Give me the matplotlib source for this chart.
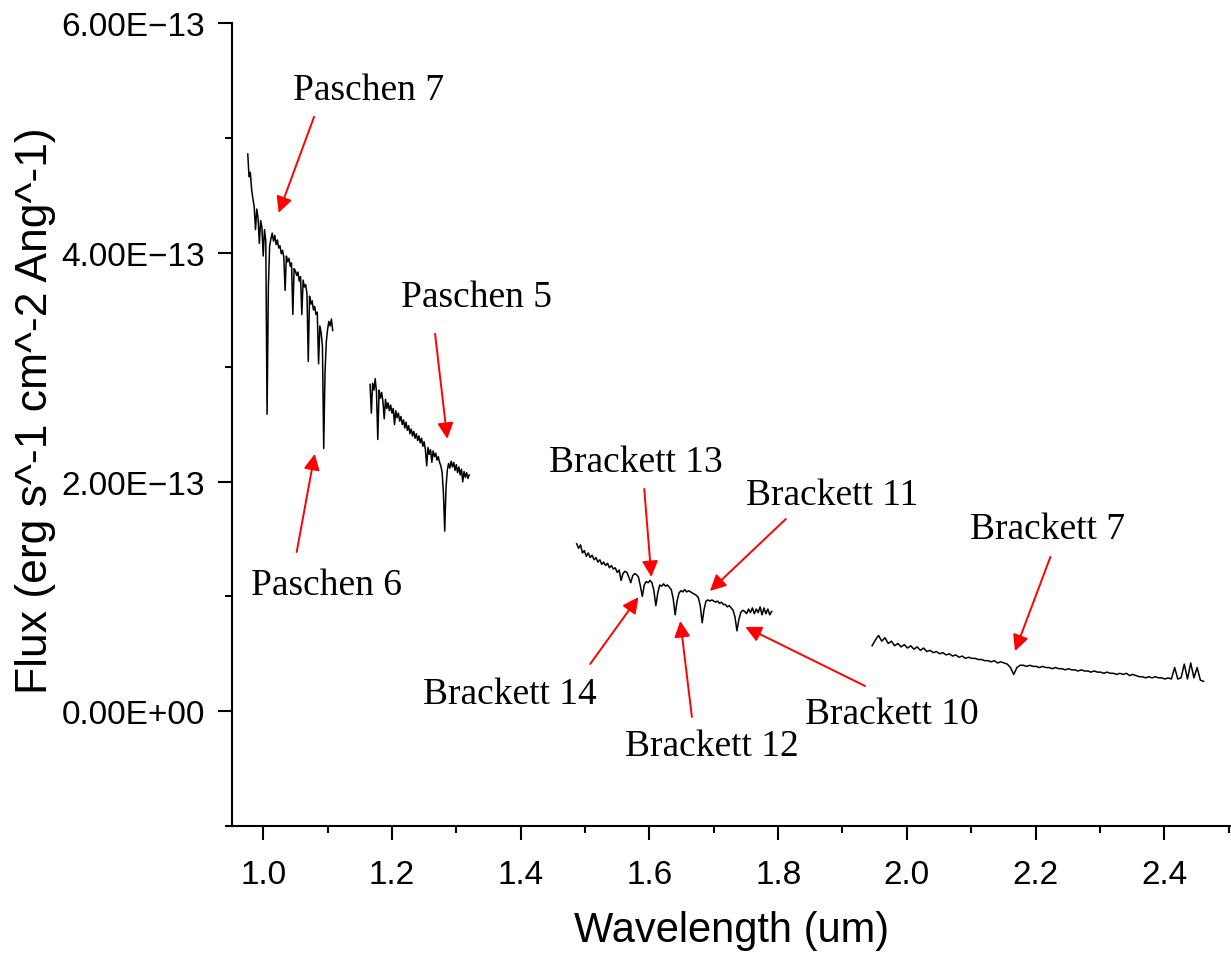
import matplotlib
matplotlib.use("Agg")
import matplotlib.pyplot as plt
from matplotlib.ticker import FuncFormatter
import numpy as np

# flux values in units of 1e-13 erg s^-1 cm^-2 Ang^-1, one list per spectral band
SCALE = 1e-13

# band 1 (Paschen), sampled every 0.002 um from 0.976 um
pa_start, pa_step = 0.976, 0.002
pa_flux = [4.86, 4.66, 4.70, 4.55, 4.47, 4.40, 4.20, 4.38, 4.30, 4.08,
           4.28, 4.22, 3.97, 4.20, 4.10, 2.59, 3.70, 4.06, 4.12, 4.17,
           4.10, 4.15, 4.07, 4.11, 4.04, 4.06, 3.99, 4.02, 3.96, 3.67,
           3.97, 3.92, 3.95, 3.88, 3.91, 3.46, 3.86, 3.84, 3.80, 3.83,
           3.75, 3.79, 3.46, 3.76, 3.70, 3.72, 3.64, 3.05, 3.62, 3.55,
           3.58, 3.50, 3.53, 3.46, 3.48, 3.03, 3.36, 3.30, 3.18, 2.29,
           2.95, 3.22, 3.33, 3.40, 3.36, 3.42, 3.32]

# band 2 (Paschen beta region), every 0.002 um from 1.166 um
pb_start, pb_step = 1.166, 0.002
pb_flux = [2.85, 2.60, 2.86, 2.80, 2.90, 2.78, 2.37, 2.80, 2.73, 2.78,
           2.70, 2.55, 2.72, 2.64, 2.69, 2.62, 2.67, 2.60, 2.64, 2.50,
           2.62, 2.56, 2.60, 2.53, 2.57, 2.50, 2.54, 2.47, 2.52, 2.45,
           2.49, 2.42, 2.46, 2.40, 2.44, 2.38, 2.42, 2.36, 2.40, 2.34,
           2.38, 2.31, 2.35, 2.28, 2.14, 2.30, 2.24, 2.28, 2.17, 2.27,
           2.22, 2.25, 2.19, 2.22, 2.17, 2.14, 2.08, 1.90, 1.57, 1.95,
           2.10, 2.16, 2.12, 2.18, 2.13, 2.17, 2.10, 2.15, 2.08, 2.13,
           2.06, 2.11, 2.00, 2.09, 2.04, 2.08, 2.03, 2.06]

# band 3 (H band, Brackett series), every 0.003 um from 1.487 um
h_start, h_step = 1.487, 0.003
h_flux = [1.46, 1.42, 1.45, 1.38, 1.40, 1.35, 1.38, 1.34, 1.36, 1.32,
          1.34, 1.30, 1.32, 1.28, 1.30, 1.27, 1.29, 1.25, 1.27, 1.24,
          1.25, 1.21, 1.23, 1.14, 1.20, 1.22, 1.21, 1.17, 1.12, 1.18,
          1.20, 1.19, 1.17, 1.09, 1.00, 1.10, 1.13, 1.12, 1.14, 1.12,
          1.05, 0.92, 1.03, 1.10, 1.09, 1.11, 1.09, 1.10, 1.08, 1.06,
          0.98, 0.84, 0.96, 1.03, 1.05, 1.04, 1.06, 1.04, 1.05, 1.04,
          1.03, 1.02, 1.01, 0.99, 0.92, 0.77, 0.89, 0.96, 0.97, 0.96,
          0.97, 0.96, 0.95, 0.96, 0.94, 0.95, 0.93, 0.93, 0.91, 0.92,
          0.90, 0.88, 0.82, 0.70, 0.80, 0.86, 0.88, 0.87, 0.85, 0.89,
          0.86, 0.90, 0.85, 0.89, 0.86, 0.91, 0.84, 0.90, 0.85, 0.89,
          0.84, 0.87]

# band 4 (K band), every 0.005 um from 1.946 um
k_start, k_step = 1.946, 0.005
k_flux = [0.57, 0.62, 0.66, 0.61, 0.64, 0.59, 0.61, 0.57, 0.59, 0.56,
          0.58, 0.55, 0.57, 0.54, 0.56, 0.53, 0.55, 0.52, 0.53, 0.51,
          0.52, 0.50, 0.51, 0.49, 0.50, 0.48, 0.49, 0.47, 0.48, 0.46,
          0.47, 0.46, 0.46, 0.45, 0.45, 0.44, 0.44, 0.43, 0.44, 0.42,
          0.43, 0.42, 0.41, 0.38, 0.32, 0.38, 0.40, 0.40, 0.39, 0.40,
          0.39, 0.39, 0.38, 0.39, 0.38, 0.38, 0.37, 0.38, 0.37, 0.37,
          0.36, 0.37, 0.36, 0.36, 0.35, 0.36, 0.35, 0.35, 0.34, 0.35,
          0.34, 0.34, 0.33, 0.34, 0.33, 0.33, 0.32, 0.33, 0.32, 0.33,
          0.31, 0.32, 0.31, 0.30, 0.30, 0.29, 0.30, 0.29, 0.30, 0.29,
          0.29, 0.28, 0.29, 0.28, 0.38, 0.28, 0.29, 0.41, 0.28, 0.42,
          0.29, 0.38, 0.27, 0.26]

bands = [(pa_start, pa_step, pa_flux),
         (pb_start, pb_step, pb_flux),
         (h_start, h_step, h_flux),
         (k_start, k_step, k_flux)]

# line labels: text position, arrow tail, arrow tip (um, 1e-13 flux units)
line_names = ["Paschen 7", "Paschen 6", "Paschen 5", "Brackett 13", "Brackett 11",
              "Brackett 14", "Brackett 12", "Brackett 10", "Brackett 7"]
text_pos = [(1.164, 5.42), (1.099, 1.10), (1.332, 3.615), (1.579, 2.175), (1.884, 1.887),
            (1.383, 0.151), (1.697, -0.305), (1.977, -0.024), (2.219, 1.59)]
arrow_tail = [(1.079, 5.184), (1.052, 1.388), (1.267, 3.291), (1.592, 1.938), (1.812, 1.676),
              (1.508, 0.411), (1.666, -0.051), (1.935, 0.219), (2.223, 1.345)]
arrow_tip = [(1.024, 4.347), (1.080, 2.244), (1.286, 2.375), (1.603, 1.170), (1.694, 1.048),
             (1.583, 0.995), (1.648, 0.786), (1.749, 0.734), (2.168, 0.524)]

x_major = [1.0, 1.2, 1.4, 1.6, 1.8, 2.0, 2.2, 2.4]
x_minor = [1.1, 1.3, 1.5, 1.7, 1.9, 2.1, 2.3, 2.5]
y_major = [0.0, 2.0, 4.0, 6.0]
y_minor = [-1.0, 1.0, 3.0, 5.0]

plt.rcParams['font.family'] = ['Liberation Sans', 'DejaVu Sans']

fig = plt.figure(figsize=(12.31, 9.54), dpi=100)
ax = fig.add_axes([0.1882, 0.1334, 0.8118, 0.8411])

for start, step, flux in bands:
    wl = start + step * np.arange(len(flux))
    ax.plot(wl, np.array(flux) * SCALE, color='black', lw=1.1)

for name, tp, tail, tip in zip(line_names, text_pos, arrow_tail, arrow_tip):
    ax.text(tp[0], tp[1] * SCALE, name, ha='center', va='center',
            fontsize=27, family=['Liberation Serif', 'DejaVu Serif'])
    ax.annotate('', xy=(tip[0], tip[1] * SCALE), xytext=(tail[0], tail[1] * SCALE),
                arrowprops=dict(arrowstyle='-|>', color='red', lw=1.4,
                                mutation_scale=24, shrinkA=0, shrinkB=0))

ax.set_xlim(0.951, 2.5036)
ax.set_ylim(-1e-13, 6e-13)

ax.spines['top'].set_visible(False)
ax.spines['right'].set_visible(False)
for s in ['left', 'bottom']:
    ax.spines[s].set_linewidth(1.5)

ax.set_xticks(x_major)
ax.set_xticks(x_minor, minor=True)
ax.set_yticks([v * SCALE for v in y_major])
ax.set_yticks([v * SCALE for v in y_minor], minor=True)
ax.xaxis.set_major_formatter(FuncFormatter(lambda v, p: f"{v:.1f}"))
ax.yaxis.set_major_formatter(FuncFormatter(lambda v, p: f"{v:.2E}".replace('-', '\u2212')))

ax.tick_params(which='major', direction='out', length=10, width=1.5, labelsize=24)
ax.tick_params(axis='x', which='major', pad=14)
ax.tick_params(axis='y', which='major', pad=9)
ax.tick_params(which='minor', direction='out', length=5, width=1.5)

ax.set_xlabel('Wavelength (um)', fontsize=30, labelpad=14)
ax.set_ylabel('Flux (erg s^-1 cm^-2 Ang^-1)', fontsize=32)
ax.yaxis.set_label_coords(-0.176, 0.519)

fig.savefig('out.png', dpi=100)
